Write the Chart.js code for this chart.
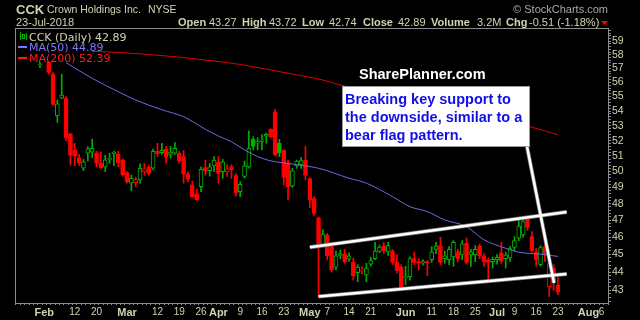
<!DOCTYPE html>
<html>
<head>
<meta charset="utf-8">
<title>CCK Daily</title>
<script src="https://cdn.jsdelivr.net/npm/chart.js@4.4.0/dist/chart.umd.min.js"></script>
<style>
  html, body { margin: 0; padding: 0; background: #000; }
  canvas { display: block; }
</style>
</head>
<body>
<canvas id="chart" width="640" height="320"></canvas>
<script>
// trading days on the axis: 24-Jan-2018 onward, runs past the last bar into August
const holidays = ['2018-02-19', '2018-03-30', '2018-05-28', '2018-07-04'];
const days = [];
for (let d = new Date(Date.UTC(2018, 0, 24)); days.length < 136; d.setUTCDate(d.getUTCDate() + 1)) {
  const s = d.toISOString().slice(0, 10);
  if (d.getUTCDay() % 6 !== 0 && !holidays.includes(s)) days.push(s);
}

// x axis labels
const tickDays = ['2018-02-01', '2018-02-12', '2018-02-20', '2018-03-01', '2018-03-12', '2018-03-19', '2018-03-26',
  '2018-04-02', '2018-04-09', '2018-04-16', '2018-04-23', '2018-05-01', '2018-05-07', '2018-05-14', '2018-05-21',
  '2018-06-01', '2018-06-11', '2018-06-18', '2018-06-25', '2018-07-02', '2018-07-09', '2018-07-16', '2018-07-23',
  '2018-08-01', '2018-08-06'];
const tickText = ['Feb', '12', '20', 'Mar', '12', '19', '26', 'Apr', '9', '16', '23', 'May', '7', '14', '21',
  'Jun', '11', '18', '25', 'Jul', '9', '16', '23', 'Aug', '6'];
// price labels on the right
const priceLabels = [43, 44, 45, 46, 47, 48, 49, 50, 51, 52, 53, 54, 55, 56, 57, 58, 59];

// daily OHLC (first bars sit behind the legend)
const open = [null, null, null, null, null, 57.25, null,
  57.48, 56.6, 53.68, 54.88, 54.9, 52.45, 51.4, 50.9, 50.21, 51.18,
  51.25, 51.2, 50.53, 50.3, 50.78, 51.15, 51.1, 50.75, 49.93, 49.27,
  49.3, 49.48, 50.0, 50.3, 50.21, 51.3, 51.22, 51.45, 51.1, 51.18,
  51.18, 50.96, 49.84, 49.16, 48.6, 49.05, 50.25, 50.06, 50.36, 50.63,
  49.99, 49.97, 50.3, 49.75, 48.74, 49.7, 50.3, 52.1, 51.83, 51.95,
  52.3, 52.76, 53.95, 51.83, 51.36, 50.57, 49.1, 50.36, 50.45, 50.73,
  49.55, 48.32, 47.15, 45.5, 46.13, 45.45, 44.28, 44.95, 45.02, 44.73,
  44.55, 43.97, 44.05, 43.84, 44.45, 44.76, 45.17, 45.49, 45.14, 45.2,
  44.55, 44.28, 43.67, 43.75, 44.76, 44.6, 44.5, 44.6, 44.7, 45.29,
  45.51, 44.76, 44.7, 44.86, 45.17, 44.97, 45.64, 44.97, 44.97, 45.49,
  44.92, 44.7, 44.59, 44.7, 45.1, 44.76, 44.81, 45.4, 45.94, 46.14,
  47.1, 46.03, 45.14, 44.42, 45.45, 43.2, 44.23, 43.27];
const high = [null, null, null, null, null, 57.45, null,
  57.5, 56.7, 54.76, 56.58, 55.0, 52.5, 51.83, 51.1, 50.77, 51.6,
  52.1, 51.3, 51.25, 51.05, 51.18, 51.3, 51.3, 50.8, 50.0, 49.77,
  49.64, 50.49, 50.53, 50.43, 51.45, 51.83, 51.83, 51.62, 51.62, 51.87,
  51.3, 51.36, 49.99, 49.4, 48.9, 50.3, 50.73, 50.53, 50.96, 50.96,
  50.78, 50.43, 50.43, 49.88, 49.37, 50.67, 52.65, 52.27, 52.2, 52.4,
  52.5, 52.8, 54.12, 52.1, 51.4, 50.73, 50.21, 50.73, 50.9, 51.62,
  49.6, 48.43, 47.2, 46.43, 46.22, 45.5, 45.2, 45.25, 45.3, 45.1,
  44.8, 44.42, 44.3, 44.5, 44.85, 45.7, 45.55, 45.7, 45.7, 45.3,
  45.0, 44.42, 44.33, 44.86, 45.14, 44.76, 44.7, 44.65, 45.45, 45.7,
  46.0, 45.2, 45.45, 45.8, 45.3, 45.8, 45.95, 45.29, 45.51, 45.6,
  45.05, 44.8, 44.86, 45.0, 45.7, 45.14, 45.45, 46.03, 47.1, 47.1,
  47.2, 46.33, 45.34, 45.51, 45.6, 44.76, 44.42, 43.72];
const low = [null, null, null, null, null, 57.05, null,
  56.58, 54.4, 53.23, 54.85, 52.0, 50.4, 50.38, 50.4, 50.06, 50.67,
  50.9, 50.3, 50.2, 50.0, 50.53, 50.38, 50.3, 49.7, 49.27, 48.8,
  49.06, 49.27, 49.77, 49.77, 50.1, 50.96, 51.1, 50.53, 50.87, 51.1,
  50.53, 49.27, 49.37, 48.4, 48.2, 48.74, 49.77, 49.71, 49.99, 49.27,
  49.58, 49.7, 49.58, 48.47, 48.43, 49.58, 50.21, 51.4, 51.4, 51.4,
  51.83, 52.2, 51.0, 50.96, 49.16, 48.25, 49.0, 50.21, 50.2, 49.48,
  47.75, 47.3, 42.66, 45.45, 44.69, 44.0, 44.13, 44.75, 44.5, 44.6,
  43.56, 43.47, 43.9, 43.47, 44.33, 44.7, 45.1, 45.05, 44.95, 44.42,
  43.95, 43.1, 43.3, 43.56, 44.42, 44.13, 44.4, 43.8, 44.55, 45.05,
  44.42, 44.5, 44.42, 44.33, 44.6, 44.7, 44.45, 44.33, 44.59, 44.76,
  44.33, 43.56, 44.23, 44.45, 44.5, 44.23, 44.6, 45.2, 45.8, 46.0,
  46.4, 45.14, 44.33, 44.33, 44.59, 42.66, 42.98, 42.74];
const close = [null, null, null, null, null, 57.3, null,
  56.72, 54.46, 54.5, 55.11, 52.16, 51.03, 51.0, 50.55, 50.63, 51.46,
  51.5, 50.53, 50.25, 50.75, 50.82, 51.25, 50.57, 49.8, 49.37, 49.58,
  49.5, 50.21, 50.18, 49.88, 51.3, 51.15, 51.36, 50.96, 51.25, 51.5,
  50.67, 49.84, 49.52, 48.43, 48.25, 50.15, 50.04, 50.3, 50.73, 49.88,
  50.63, 50.17, 50.1, 48.68, 49.2, 50.36, 51.5, 51.62, 51.95, 52.05,
  52.42, 52.27, 51.08, 51.22, 49.64, 49.05, 50.04, 50.67, 50.7, 49.75,
  48.25, 47.41, 45.49, 46.18, 44.92, 44.13, 44.92, 45.05, 44.59, 44.92,
  43.79, 44.28, 44.12, 44.23, 44.65, 45.2, 45.42, 45.2, 45.51, 44.55,
  44.1, 43.2, 43.75, 44.76, 44.55, 44.5, 44.6, 44.5, 45.14, 45.49,
  44.55, 44.92, 45.29, 45.7, 44.76, 45.61, 44.55, 45.14, 45.29, 44.92,
  44.59, 44.55, 44.73, 44.84, 44.62, 44.97, 45.34, 45.8, 46.66, 46.92,
  46.57, 45.2, 44.7, 45.4, 45.0, 44.5, 43.4, 42.89];

// moving averages, read at a number of days (day index into `days`)
const ma50Day = [11, 17, 23, 27, 33, 38, 43, 46, 49, 52, 56, 59, 63, 69, 76, 80, 86, 90, 94, 98, 103, 107, 112, 115, 120, 124];
const ma50 = [57.42, 56.29, 55.34, 54.76, 54.09, 53.61, 52.76, 52.31, 51.93, 51.4, 50.85, 50.63, 50.48, 50.21,
  49.58, 49.27, 48.43, 47.82, 47.52, 47.02, 46.62, 45.85, 45.36, 45.13, 45.02, 44.89];
const ma200Day = [17, 23, 33, 42, 51, 62, 70, 74, 88, 101, 118, 124];
const ma200 = [58.26, 58.17, 57.94, 57.65, 57.29, 56.65, 56.17, 55.81, 54.97, 54.07, 52.9, 52.39];

// hand drawn lines: channel top, channel bottom, callout pointer (day index, price)
const upperX = [67, 126], upperY = [45.41, 47.5];
const lowerX = [69, 126], lowerY = [42.66, 43.9];
const calloutX = [116.9, 123.1], calloutY = [51.6, 43.4];

const RED = '#ff0000', GREEN = '#00b000', AXIS = '#8c8c8c', TXT = '#d2d2b2';
Chart.defaults.font.family = '"Liberation Sans", Arial, sans-serif';

const tickIdx = tickDays.map(d => days.indexOf(d));
const wick = days.map((d, i) => high[i] == null ? null : [low[i], high[i]]);
const body = days.map((d, i) => open[i] == null ? null : [open[i], close[i]]);

function candleColor(i) {
  const prev = close[i - 1] != null ? close[i - 1] : open[i];
  return close[i] < prev ? RED : GREEN;
}
function bodyFill(i) {
  return close[i] < open[i] ? candleColor(i) : '#000';
}
function dayLabel(i) {
  const k = tickIdx.indexOf(i);
  return k < 0 ? '' : tickText[k];
}
function pts(xs, ys) {
  return xs.map((x, k) => ({ x: x, y: ys[k] }));
}
function drawnLine(xs, ys) {
  const base = { type: 'line', data: pts(xs, ys), xAxisID: 'xl', pointRadius: 0, fill: false };
  return [
    Object.assign({}, base, { borderColor: '#7a7a7a', borderWidth: 4, order: 1 }),
    Object.assign({}, base, { borderColor: '#ffffff', borderWidth: 2.5, order: 0 })
  ];
}

const overlay = {
  id: 'overlay',
  afterDatasetsDraw(chart) {
    const c = chart.ctx, a = chart.chartArea;
    c.save();
    c.strokeStyle = AXIS;
    c.lineWidth = 1;
    c.strokeRect(a.left - 0.5, a.top - 0.5, a.right - a.left + 1, a.bottom - a.top + 1);

    // header
    c.textBaseline = 'alphabetic';
    c.fillStyle = TXT;
    c.font = 'bold 13px "Liberation Sans"';
    c.fillText('CCK', 16, 13.5);
    c.font = '10.5px "Liberation Sans"';
    c.fillText('Crown Holdings Inc.', 47, 13);
    c.fillText('NYSE', 148, 13);
    c.font = '11px "Liberation Sans"';
    c.fillText('23-Jul-2018', 16, 26);
    c.fillStyle = '#a8a8a8';
    c.textAlign = 'right';
    c.fillText('\u00a9 StockCharts.com', 608, 13);
    c.textAlign = 'left';
    const stats = [['Open', 178, 1], ['43.27', 209, 0], ['High', 242, 1], ['43.72', 269, 0],
      ['Low', 302, 1], ['42.74', 329, 0], ['Close', 363, 1], ['42.89', 398, 0],
      ['Volume', 431, 1], ['3.2M', 477, 0], ['Chg', 506, 1], ['-0.51 (-1.18%)', 529, 0]];
    stats.forEach(s => {
      c.font = (s[2] ? 'bold 11px' : '11px') + ' "Liberation Sans"';
      c.fillStyle = TXT;
      c.fillText(s[0], s[1], 26);
    });
    c.fillStyle = RED;
    c.beginPath();
    c.moveTo(601, 21); c.lineTo(608, 21); c.lineTo(604.5, 25); c.closePath();
    c.fill();

    // legend
    c.strokeStyle = GREEN;
    c.beginPath();
    c.moveTo(20.5, 32); c.lineTo(20.5, 40);
    c.moveTo(26.5, 33); c.lineTo(26.5, 40);
    c.stroke();
    c.strokeRect(22.5, 34.5, 2, 4);
    c.font = '11px "DejaVu Sans"';
    c.fillStyle = TXT;
    c.fillText('CCK (Daily) 42.89', 29, 40.5);
    c.fillStyle = '#7878ff';
    c.fillRect(18, 46, 9, 2);
    c.fillText('MA(50) 44.89', 29, 51);
    c.fillStyle = '#ff1c1c';
    c.fillRect(18, 57, 9, 2);
    c.fillText('MA(200) 52.39', 29, 62);

    // notes
    c.fillStyle = '#ffffff';
    c.font = 'bold 14.5px "Liberation Sans"';
    c.fillText('SharePlanner.com', 359, 78.5);
    c.fillRect(342, 86, 188, 61);
    c.strokeStyle = '#9a9a9a';
    c.strokeRect(342.5, 86.5, 187, 60);
    c.fillStyle = '#1010e6';
    c.fillText('Breaking key support to', 345, 103.5);
    c.fillText('the downside, similar to a', 345, 121.5);
    c.fillText('bear flag pattern.', 345, 140);
    c.restore();
  }
};

new Chart(document.getElementById('chart'), {
  data: {
    labels: days,
    datasets: [
      { type: 'bar', data: wick, grouped: false, barThickness: 1,
        backgroundColor: ctx => candleColor(ctx.dataIndex), order: 5 },
      { type: 'bar', data: body, grouped: false, barThickness: 4, borderWidth: 1, borderSkipped: false,
        minBarLength: 1, borderColor: ctx => candleColor(ctx.dataIndex),
        backgroundColor: ctx => bodyFill(ctx.dataIndex), order: 4 },
      { type: 'line', data: pts(ma200Day, ma200), xAxisID: 'xl', borderColor: '#e00000', borderWidth: 1,
        pointRadius: 0, cubicInterpolationMode: 'monotone', order: 3 },
      { type: 'line', data: pts(ma50Day, ma50), xAxisID: 'xl', borderColor: '#6a6ae6', borderWidth: 1,
        pointRadius: 0, cubicInterpolationMode: 'monotone', order: 2 },
      ...drawnLine(upperX, upperY),
      ...drawnLine(lowerX, lowerY),
      ...drawnLine(calloutX, calloutY)
    ]
  },
  options: {
    responsive: false,
    animation: false,
    devicePixelRatio: 1,
    layout: { padding: { left: 16, top: 29, right: 0, bottom: 0 } },
    plugins: { legend: { display: false }, tooltip: { enabled: false } },
    scales: {
      x: {
        type: 'category',
        offset: true,
        grid: { drawOnChartArea: false, tickLength: 2, color: AXIS },
        border: { color: AXIS },
        afterBuildTicks: s => { s.ticks = days.map((d, i) => ({ value: i })); },
        afterFit: s => { s.height = 17; },
        ticks: {
          autoSkip: false, maxRotation: 0, minRotation: 0, padding: 1, color: TXT,
          callback: v => dayLabel(v),
          font: ctx => /^[A-Z]/.test(dayLabel(ctx.index))
            ? { size: 11, weight: 'bold' } : { size: 10, weight: 'normal' }
        }
      },
      xl: { type: 'linear', display: false, min: -0.5, max: days.length - 0.5 },
      y: {
        type: 'logarithmic',
        position: 'right',
        min: 42.31,
        max: 59.93,
        grid: { drawOnChartArea: false, tickLength: 3, color: AXIS },
        border: { color: AXIS },
        afterBuildTicks: s => {
          const t = [];
          for (let k = 424; k <= 598; k += 2) t.push({ value: k / 10 });
          s.ticks = t;
        },
        afterFit: s => { s.width = 32; },
        ticks: {
          autoSkip: false, padding: 1, color: TXT, font: { size: 10.5 },
          callback: v => priceLabels.includes(Math.round(v * 10) / 10) ? String(v) : ''
        }
      }
    }
  },
  plugins: [overlay]
});
</script>
</body>
</html>
